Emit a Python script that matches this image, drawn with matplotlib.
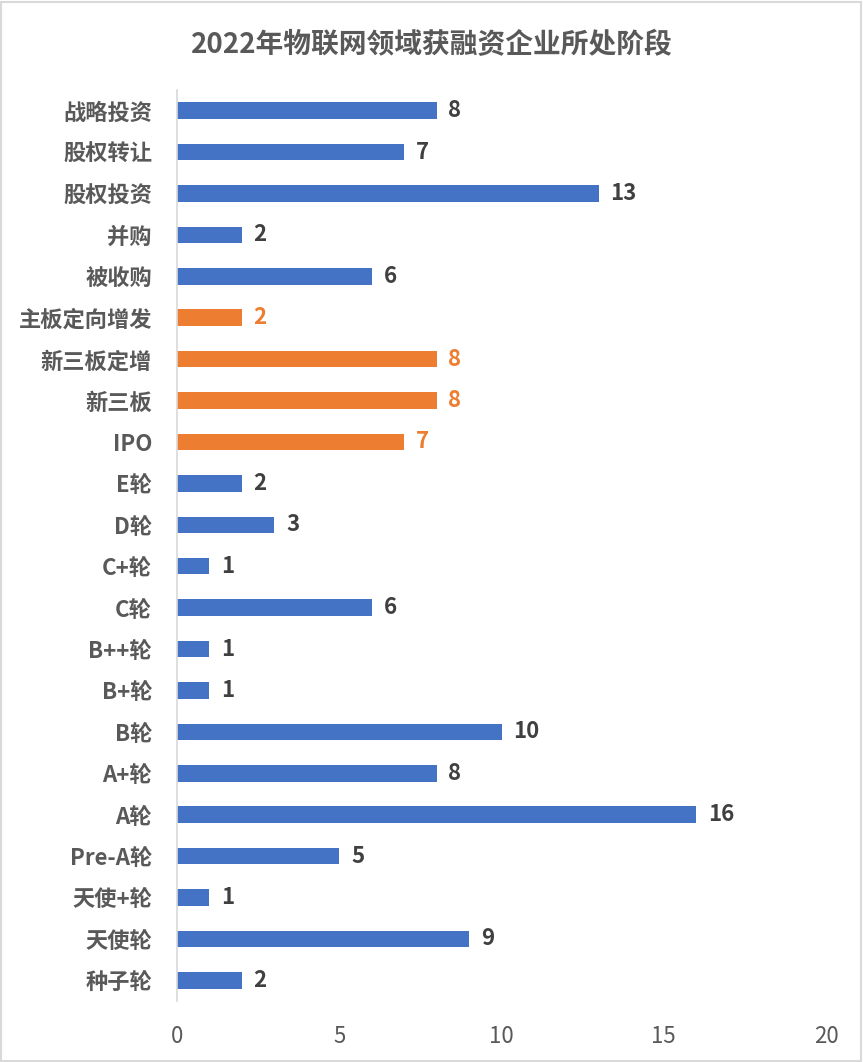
import matplotlib
matplotlib.use("Agg")
import matplotlib.pyplot as plt
from matplotlib.patches import Rectangle

plt.rcParams['font.family'] = ['Noto Sans CJK SC', 'DejaVu Sans']

categories = ["战略投资", "股权转让", "股权投资", "并购", "被收购", "主板定向增发",
              "新三板定增", "新三板", "IPO", "E轮", "D轮", "C+轮", "C轮", "B++轮",
              "B+轮", "B轮", "A+轮", "A轮", "Pre-A轮", "天使+轮", "天使轮", "种子轮"]
values = [8, 7, 13, 2, 6, 2, 8, 8, 7, 2, 3, 1, 6, 1, 1, 10, 8, 16, 5, 1, 9, 2]
highlight = ["主板定向增发", "新三板定增", "新三板", "IPO"]
x_ticks = [0, 5, 10, 15, 20]
title = "2022年物联网领域获融资企业所处阶段"

BLUE = "#4472C4"
ORANGE = "#ED7D31"

fig = plt.figure(figsize=(8.63, 10.62), dpi=100)
ax = fig.add_axes([177/863, 1-1001/1062, (826-177)/863, (1001-90)/1062])

n = len(categories)
ys = list(range(n))[::-1]
colors = [ORANGE if c in highlight else BLUE for c in categories]
ax.barh(ys, values, height=0.4, color=colors)

for y, v, c in zip(ys, values, colors):
    tc = ORANGE if c == ORANGE else "#404040"
    ax.text(v + 0.36, y, str(v), va="center", ha="left", fontsize=16,
            fontweight="bold", color=tc)

ax.set_xlim(0, 20)
ax.set_ylim(-0.5, n - 0.5)
ax.set_xticks(x_ticks)
ax.set_xticklabels([str(t) for t in x_ticks], fontsize=16, color="#595959")
ax.set_yticks(ys)
ax.set_yticklabels(categories, fontsize=16, fontweight="bold", color="#595959")
ax.tick_params(axis="both", length=0)
ax.tick_params(axis="y", pad=18)
ax.tick_params(axis="x", pad=17)
for s in ["top", "right", "bottom"]:
    ax.spines[s].set_visible(False)
ax.spines["left"].set_color("#D9D9D9")
ax.spines["left"].set_linewidth(1.2)

fig.text(0.5, 1-45/1062, title, ha="center", va="center", fontsize=20,
         fontweight="bold", color="#595959")

fig.patches.append(Rectangle((0.001, 0.001), 0.997, 0.997, transform=fig.transFigure,
                             fill=False, edgecolor="#D9D9D9", linewidth=1.5))

fig.savefig("out.png", dpi=100)
